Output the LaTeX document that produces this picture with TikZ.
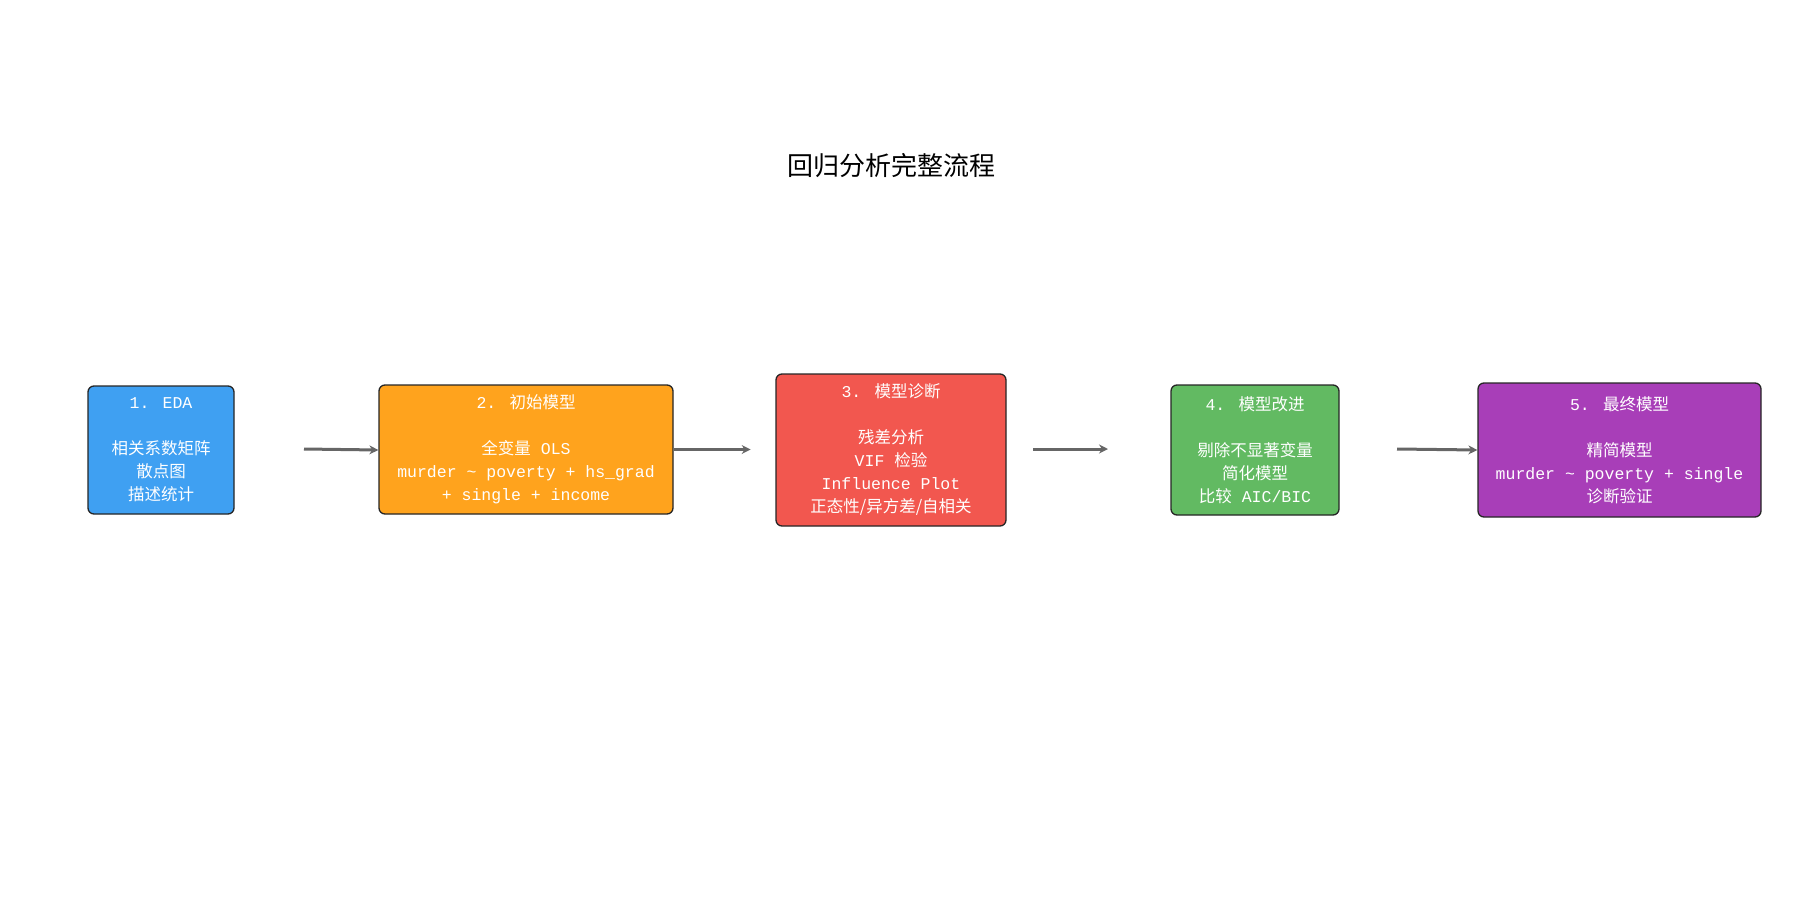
\documentclass[tikz,border=0pt]{standalone}
\usepackage{fontspec}
\setmainfont{Liberation Mono}
\newfontfamily\cjk{Noto Sans CJK SC}
\usetikzlibrary{arrows.meta}
\definecolor{cA}{HTML}{3FA0F2}
\definecolor{cB}{HTML}{FFA31D}
\definecolor{cC}{HTML}{F2574F}
\definecolor{cD}{HTML}{62BA62}
\definecolor{cE}{HTML}{A83EB8}
\begin{document}
\begin{tikzpicture}[x=1pt,y=-1pt,
  stage/.style={draw=black!85,line width=1.3pt,rounded corners=6pt,text=white,align=center,inner sep=0pt,
    font=\fontsize{16.5}{23}\selectfont},
  flow/.style={draw=black!60,line width=3pt,-{Stealth[length=9pt,width=9pt]}}]
\useasboundingbox (0,0) rectangle (1800,900);
\node[font=\cjk\fontsize{26}{30}\selectfont] (title) at (891,166) {回归分析完整流程};
\node[stage,fill=cA,minimum width=146pt,minimum height=128pt] (s1) at (161,450)
  {1. EDA\\[23pt]{\cjk 相关系数矩阵}\\{\cjk 散点图}\\{\cjk 描述统计}};
\node[stage,fill=cB,minimum width=294pt,minimum height=129pt] (s2) at (526,449.5)
  {2. {\cjk 初始模型}\\[23pt]{\cjk 全变量} OLS\\murder \textasciitilde{} poverty + hs\_grad\\+ single + income};
\node[stage,fill=cC,minimum width=230pt,minimum height=152pt] (s3) at (891,450)
  {3. {\cjk 模型诊断}\\[23pt]{\cjk 残差分析}\\VIF {\cjk 检验}\\Influence Plot\\{\cjk 正态性/异方差/自相关}};
\node[stage,fill=cD,minimum width=168pt,minimum height=130pt] (s4) at (1255,450)
  {4. {\cjk 模型改进}\\[23pt]{\cjk 剔除不显著变量}\\{\cjk 简化模型}\\{\cjk 比较} AIC/BIC};
\node[stage,fill=cE,minimum width=283pt,minimum height=134pt] (s5) at (1619.5,450)
  {5. {\cjk 最终模型}\\[23pt]{\cjk 精简模型}\\murder \textasciitilde{} poverty + single\\{\cjk 诊断验证}};
\coordinate (a1) at (304,449);
\coordinate (a2) at (1033,449);
\coordinate (b2) at (1108,449);
\coordinate (a3) at (1397,449);
\draw[flow] (a1) -- (s1.east -| s2.west);
\draw[flow] (s2.east) -- ++(77,0);
\draw[flow] (a2) -- (b2);
\draw[flow] (a3) -- (s5.west);
\end{tikzpicture}
\end{document}
